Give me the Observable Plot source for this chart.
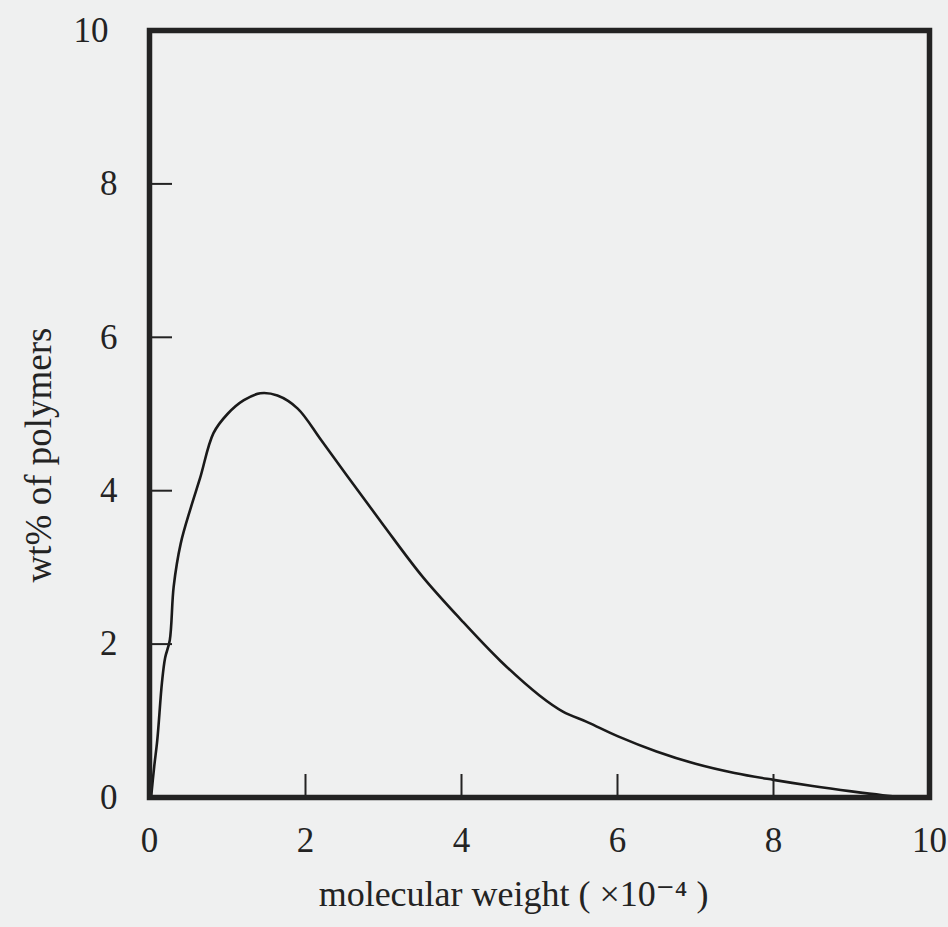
<!DOCTYPE html>
<html>
<head>
<meta charset="utf-8">
<script src="https://cdn.jsdelivr.net/npm/d3@7"></script>
<script src="https://cdn.jsdelivr.net/npm/@observablehq/plot@0.6"></script>
<style>
  html, body { margin: 0; padding: 0; background: #eff0f0; }
  #chart svg { background: #eff0f0; display: block; }
</style>
</head>
<body>
<div id="chart"></div>
<script>
// Molecular weight (×10^-4) and wt% of polymers
const molecularWeight = [0.02, 0.06, 0.10, 0.16, 0.20, 0.26, 0.31, 0.40, 0.53, 0.65, 0.82, 1.00, 1.21, 1.42, 1.64, 1.90, 2.20, 2.58, 3.00, 3.50, 4.00, 4.50, 5.00, 5.30, 5.62, 6.00, 6.50, 7.00, 7.50, 8.00, 8.50, 9.00, 9.40, 9.70];
const wtPercent       = [0.00, 0.40, 0.75, 1.50, 1.82, 2.05, 2.75, 3.31, 3.78, 4.17, 4.75, 5.00, 5.18, 5.27, 5.24, 5.07, 4.66, 4.13, 3.55, 2.88, 2.31, 1.78, 1.33, 1.12, 0.98, 0.80, 0.60, 0.44, 0.32, 0.23, 0.15, 0.08, 0.03, 0.00];

const xTickMarks = [2, 4, 6, 8];
const yTickMarks = [2, 4, 6, 8];
const xTickLabels = [0, 2, 4, 6, 8, 10];
const yTickLabels = [0, 2, 4, 6, 8];
const yTopLabel = [10];
const xLabel = "molecular weight ( ×10⁻⁴ )";
const yLabel = "wt% of polymers";

const data = molecularWeight.map((x, i) => ({x, y: wtPercent[i]}));
const ink = "#232323";
const font = "'Liberation Serif', 'DejaVu Serif', serif";

const chart = Plot.plot({
  width: 948,
  height: 927,
  marginLeft: 149,
  marginRight: 19,
  marginTop: 30,
  marginBottom: 130,
  style: {fontFamily: font, color: ink, background: "#eff0f0"},
  x: {domain: [0, 10]},
  y: {domain: [0, 10]},
  marks: [
    Plot.line(data, {x: "x", y: "y", curve: "catmull-rom", stroke: "#1a1a1a", strokeWidth: 2.6}),
    Plot.axisX({ticks: xTickMarks, tickSize: -23, strokeWidth: 2, stroke: ink, text: null, label: null}),
    Plot.axisY({ticks: yTickMarks, tickSize: -23, strokeWidth: 2, stroke: ink, text: null, label: null}),
    Plot.axisX({ticks: xTickLabels, tickSize: 0, tickPadding: 30, fontSize: 35, label: null, fill: ink}),
    Plot.axisY({ticks: yTickLabels, tickSize: 0, tickPadding: 32, fontSize: 35, label: null, fill: ink}),
    Plot.axisY({ticks: yTopLabel, tickSize: 0, tickPadding: 41, fontSize: 35, label: null, fill: ink}),
    Plot.frame({stroke: ink, strokeWidth: 5.5}),
    Plot.text([yLabel], {frameAnchor: "left", textAnchor: "middle", rotate: -90, dx: -110, dy: 41, fontSize: 37, fill: ink, text: d => d}),
    Plot.text([xLabel], {frameAnchor: "bottom", dx: -26, dy: 108, fontSize: 36, fill: ink, text: d => d})
  ]
});
document.getElementById("chart").appendChild(chart);
</script>
</body>
</html>
